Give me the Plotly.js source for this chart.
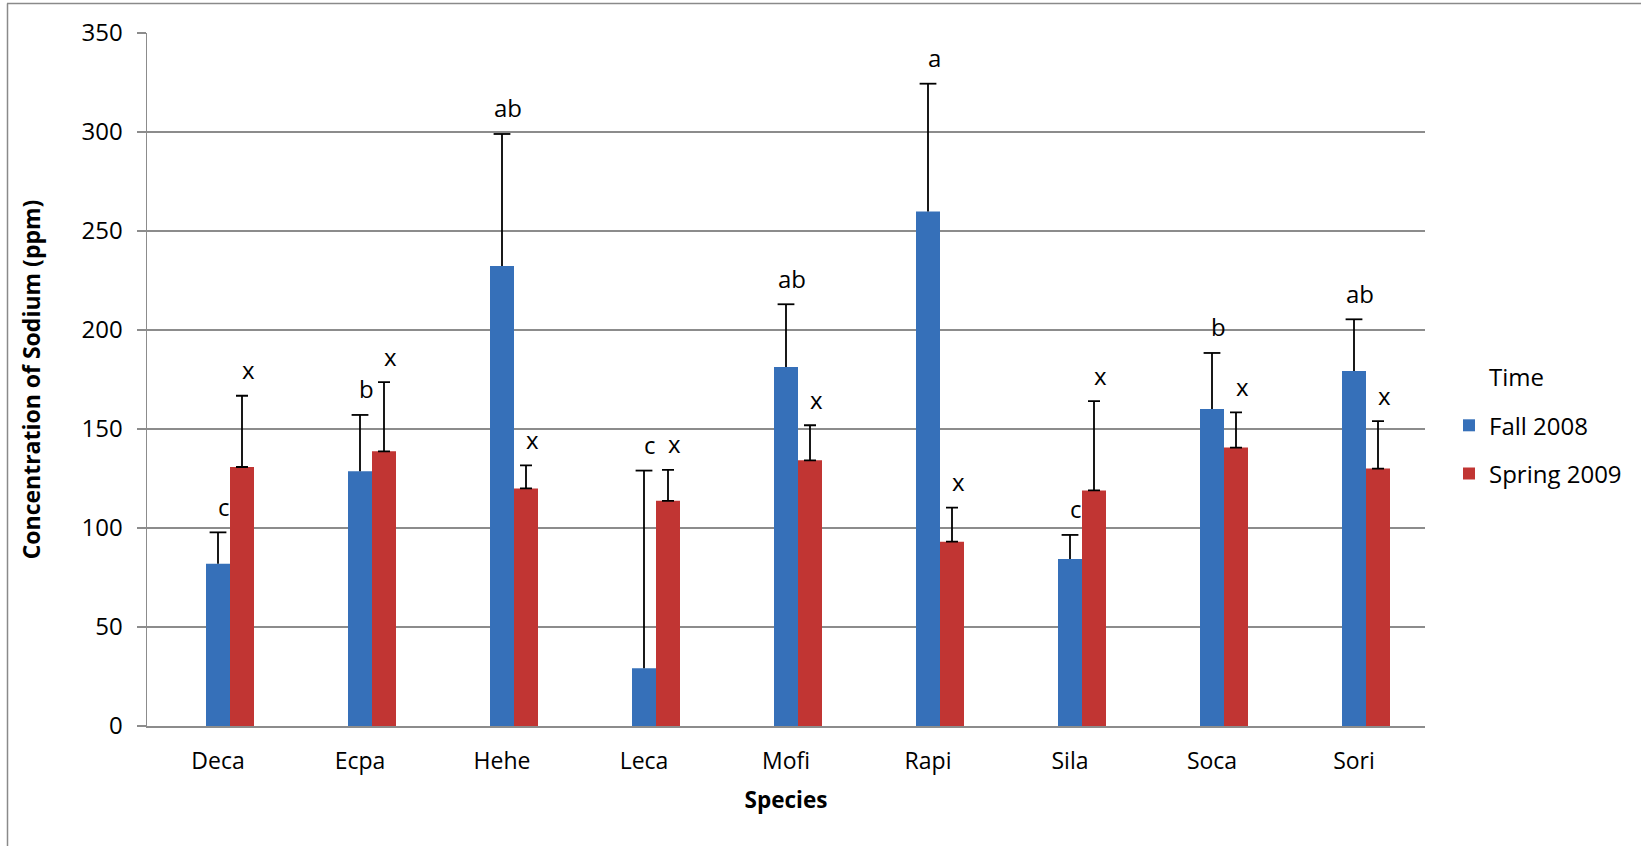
<!DOCTYPE html>
<html>
<head>
<meta charset="utf-8">
<script src="https://cdn.plot.ly/plotly-3.0.1.min.js"></script>
<style>
  html, body { margin: 0; padding: 0; background: #ffffff; }
  #chart { width: 1641px; height: 846px; }
</style>
</head>
<body>
<div id="chart"></div>
<script>
// ---- Data ----
const categories = ['Deca', 'Ecpa', 'Hehe', 'Leca', 'Mofi', 'Rapi', 'Sila', 'Soca', 'Sori'];
const fall2008 = [82.0, 128.6, 232.3, 29.2, 181.3, 259.9, 84.3, 160.1, 179.3];
const fall2008Err = [15.8, 28.5, 66.7, 99.8, 31.7, 64.5, 12.2, 28.3, 26.1];
const spring2009 = [130.8, 138.7, 120.0, 113.7, 134.2, 93.1, 119.0, 140.6, 130.0];
const spring2009Err = [36.0, 35.0, 11.6, 15.7, 17.7, 17.2, 45.1, 17.8, 24.0];
const fallLetters = ['c', 'b', 'ab', 'c', 'ab', 'a', 'c', 'b', 'ab'];
const springLetters = ['x', 'x', 'x', 'x', 'x', 'x', 'x', 'x', 'x'];
const seriesNames = ['Time', 'Fall 2008', 'Spring 2009'];
const yTicks = [0, 50, 100, 150, 200, 250, 300, 350];

// ---- Styling ----
const FONT = 'Open Sans, Noto Sans, sans-serif';
const GRID = '#8c8c8c';
const BAR_W = 0.169;
const blue = '#3670b9';
const red = '#c13533';

const fallTops = fall2008.map((v, i) => v + fall2008Err[i]);
const springTops = spring2009.map((v, i) => v + spring2009Err[i]);

const traces = [
  // empty "Time" series, as in the original workbook (legend header only)
  {
    type: 'bar', name: seriesNames[0], x: [categories[0]], y: [null],
    offset: 0, width: BAR_W, legendgroup: 'g0',
    marker: { color: 'rgba(0,0,0,0)', line: { width: 0 } }, hoverinfo: 'skip'
  },
  {
    type: 'bar', name: seriesNames[1], x: categories, y: fall2008,
    offset: -BAR_W / 2, width: BAR_W, legendgroup: 'g1',
    marker: { color: blue, line: { width: 0 } },
    error_y: {
      type: 'data', array: fall2008Err, arrayminus: fall2008Err.map(() => 0), symmetric: false,
      visible: true, color: '#000000', thickness: 1.8, width: 0
    },
    hoverinfo: 'x+y'
  },
  {
    type: 'bar', name: seriesNames[2], x: categories, y: spring2009,
    offset: BAR_W / 2, width: BAR_W, legendgroup: 'g2',
    marker: { color: red, line: { width: 0 } },
    error_y: {
      type: 'data', array: spring2009Err, arrayminus: spring2009Err.map(() => 0), symmetric: false,
      visible: true, color: '#000000', thickness: 1.8, width: 6
    },
    hoverinfo: 'x+y'
  },
  // top caps of the Fall 2008 error bars (the original has no cap at the bar end)
  {
    type: 'scatter', mode: 'markers', x: categories, y: fallTops, showlegend: false,
    marker: { symbol: 'line-ew', size: 12, color: '#000000', line: { color: '#000000', width: 1.8 } },
    hoverinfo: 'skip'
  }
];

const letterFont = { family: FONT, size: 24, color: '#000000' };
const annotations = [];
categories.forEach((c, i) => {
  annotations.push({
    x: c, y: fallTops[i], xref: 'x', yref: 'y',
    text: fallLetters[i], showarrow: false, xanchor: 'center', yanchor: 'middle',
    xshift: 6, yshift: 26, font: letterFont
  });
  annotations.push({
    x: c, y: springTops[i], xref: 'x', yref: 'y',
    text: springLetters[i], showarrow: false, xanchor: 'center', yanchor: 'middle',
    xshift: 24 + 6, yshift: 26, font: letterFont
  });
});

// Plot area in pixels: x 147..1425, y 33..726
const L = 147, R = 216, T = 33, B = 120;
const plotW = 1641 - L - R, plotH = 846 - T - B;
const px2paperX = (px) => (px - L) / plotW;
const px2paperY = (py) => (846 - B - py) / plotH;

const layout = {
  width: 1641, height: 846,
  margin: { l: L, r: R, t: T, b: B, pad: 0 },
  paper_bgcolor: '#ffffff', plot_bgcolor: '#ffffff',
  font: { family: FONT, size: 24, color: '#000000' },
  barmode: 'overlay',
  showlegend: true,
  legend: {
    x: px2paperX(1449), y: px2paperY(355), xanchor: 'left', yanchor: 'top',
    traceorder: 'grouped', tracegroupgap: 14,
    font: { family: FONT, size: 24, color: '#000000' },
    bgcolor: 'rgba(0,0,0,0)', borderwidth: 0
  },
  xaxis: {
    type: 'category', range: [-0.5, categories.length - 0.5],
    showgrid: false, zeroline: false, showline: true, linecolor: GRID, linewidth: 1.5,
    ticks: '', ticklabelstandoff: 14,
    tickfont: { family: FONT, size: 23, color: '#000000' },
    title: { text: 'Species', standoff: 17, font: { family: FONT, size: 22.5, color: '#000000', weight: 'bold' } },
    automargin: false, fixedrange: true
  },
  yaxis: {
    range: [0, 350], tickvals: yTicks, ticktext: yTicks.map(String),
    showgrid: true, gridcolor: GRID, gridwidth: 1.3,
    zeroline: false, showline: true, linecolor: GRID, linewidth: 1.5,
    ticks: 'outside', ticklen: 9, tickcolor: GRID, tickwidth: 1.5,
    ticklabelstandoff: 9,
    tickfont: { family: FONT, size: 24, color: '#000000' },
    title: { text: 'Concentration of Sodium (ppm)', standoff: 34, font: { family: FONT, size: 23, color: '#000000', weight: 'bold' } },
    automargin: false, fixedrange: true
  },
  annotations: annotations,
  shapes: [
    { type: 'line', xref: 'paper', yref: 'paper', x0: px2paperX(7), x1: px2paperX(1660), y0: px2paperY(3.5), y1: px2paperY(3.5), line: { color: '#8a8a8a', width: 1.5 } },
    { type: 'line', xref: 'paper', yref: 'paper', x0: px2paperX(7.5), x1: px2paperX(7.5), y0: px2paperY(3.5), y1: px2paperY(870), line: { color: '#8a8a8a', width: 1.5 } }
  ]
};

Plotly.newPlot('chart', traces, layout, { displayModeBar: false, staticPlot: true });
</script>
</body>
</html>
